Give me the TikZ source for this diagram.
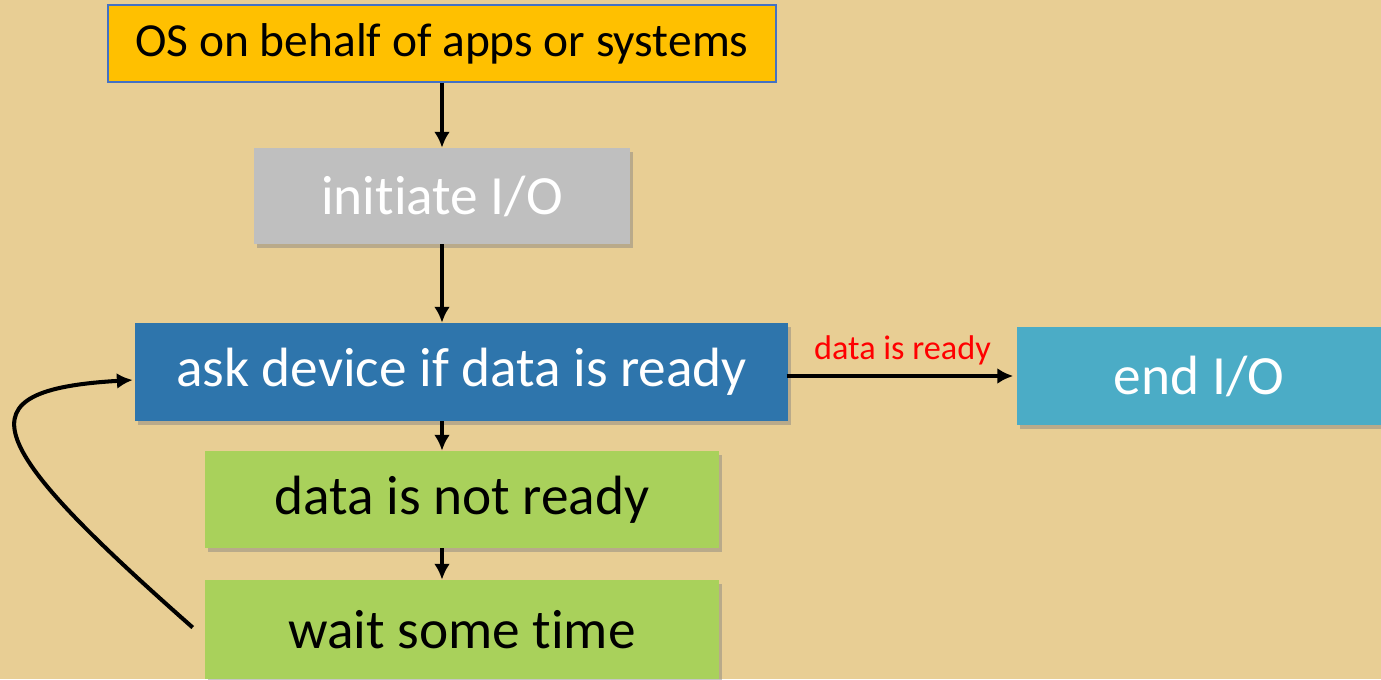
\documentclass[tikz,border=0pt]{standalone}
\usepackage{fontspec}
\setmainfont{Carlito}[Ligatures=NoCommon]
\usetikzlibrary{arrows.meta,shadows}

\definecolor{paper}{RGB}{232,206,148}
\definecolor{osyellow}{RGB}{255,192,0}
\definecolor{osblue}{RGB}{68,114,196}
\definecolor{iogray}{RGB}{191,191,191}
\definecolor{askblue}{RGB}{46,117,172}
\definecolor{waitgreen}{RGB}{169,209,91}
\definecolor{endteal}{RGB}{75,172,198}

\begin{document}
\begin{tikzpicture}[x=0.02cm, y=-0.02cm,
	box/.style={inner sep=0pt, align=center, font=\fontsize{31.5}{36}\selectfont,
		drop shadow={opacity=0.45, shadow xshift=1.5pt, shadow yshift=-2pt}},
	flow/.style={line width=2.3pt, -{Latex[length=9pt, width=9pt]}}]
	\fill[paper] (0,0) rectangle (1381,679);
	\useasboundingbox (0,0) rectangle (1381,679);

	\node[fill=osyellow, draw=osblue, line width=0.8pt, inner sep=0pt, minimum width=13.36cm, minimum height=1.54cm, font=\fontsize{27}{32}\selectfont] (os) at (442, 43.5) {OS on behalf of apps or systems};
	\node[box, fill=iogray, text=white, minimum width=7.52cm, minimum height=1.92cm] (init) at (442, 196) {initiate I/O};
	\node[box, fill=askblue, text=white, minimum width=13.06cm, minimum height=1.96cm] (ask) at (461.5, 372) {ask device if data is ready};
	\node[box, fill=waitgreen, minimum width=10.28cm, minimum height=1.94cm] (notready) at (462, 499.5) {data is not ready};
	\node[box, fill=waitgreen, minimum width=10.28cm, minimum height=1.98cm] (wait) at (462, 629.5) {wait some time};
	\node[box, fill=endteal, text=white, minimum width=7.28cm, minimum height=1.96cm] (endio) at (1199, 376) {end I/O};

	\draw[flow] (os.south) -- (init.north);
	\draw[flow] (init.south) -- (init.south |- ask.north);
	\draw[flow] (init.south |- ask.south) -- (init.south |- notready.north);
	\draw[flow] (init.south |- notready.south) -- (init.south |- wait.north);
	\draw[flow, shorten <=-1pt, shorten >=2pt] (ask.east |- endio.west) -- node[above, text=red, inner sep=5pt, font=\fontsize{19.5}{22}\selectfont] {data is ready} (endio.west);

	\draw[flow] ([shift={(-12,-2)}]wait.west) .. controls (-20,440) and (-40,390) .. ([shift={(-2,8)}]ask.west);

\end{tikzpicture}
\end{document}
